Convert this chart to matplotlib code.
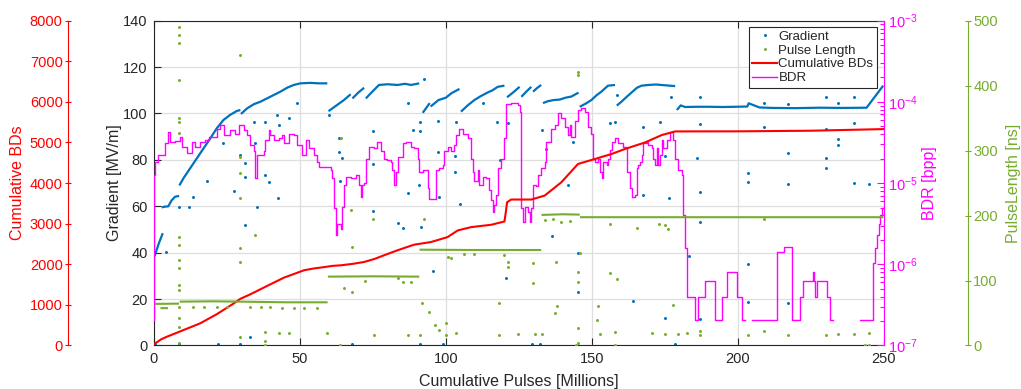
import numpy as np
import matplotlib
matplotlib.use("Agg")
import matplotlib.pyplot as plt
from matplotlib.ticker import LogLocator, NullFormatter, LogFormatterSciNotation

plt.rcParams['font.family'] = ['Liberation Sans', 'DejaVu Sans']
plt.rcParams['mathtext.fontset'] = 'custom'
plt.rcParams['mathtext.rm'] = 'Liberation Sans'
plt.rcParams['mathtext.it'] = 'Liberation Sans:italic'
plt.rcParams['mathtext.bf'] = 'Liberation Sans:bold'
plt.rcParams['mathtext.default'] = 'regular'

nan = float('nan')

# ---------------- data (millions of pulses) ----------------
grad_x = [0.2, 1.5, 3.0, nan,
          2.6, 3.5, 4.9, 6.0, 7.2, 8.6, nan,
          8.7, 10.1, 12.4, 14.7, 17.0, 19.3, 21.5, 23.8, 26.1, 28.4, 29.6, nan,
          29.8, 31.9, 34.2, 36.5, 38.7, 41.0, 43.3, 45.6, 47.9, 50.2, 53.6, 56.5, 59.4, nan,
          59.8, 62.8, 65.1, 67.4, nan, 68.0, 70.0, 72.0, nan,
          72.6, 74.8, 77.1, 80.0, 83.5, 86.0, 88.1, 90.9, nan,
          92.1, 94.5, nan, 94.8, 97.5, 100.0, 102.0, 104.7, nan,
          105.2, 107.5, 109.8, 112.0, 114.4, 116.0, 117.8, 120.1, nan,
          121.0, 123.0, 125.3, nan, 125.9, 127.5, 129.3, nan, 129.9, 131.3, 132.7, nan,
          133.3, 135.0, 137.0, 139.0, 141.0, 143.0, 144.5, 145.5, nan,
          145.9, 148.0, 149.9, 151.6, 153.3, 155.6, 158.0, nan,
          158.6, 160.3, 162.0, 163.8, 165.5, 167.1, 169.5, 172.0, 175.0, 178.6, nan,
          179.2, 180.5, 182.0, 186.0, 190.0, 195.0, 199.0, 203.3, 203.8, 207.5, 212.0,
          220.0, 228.0, 236.0, 244.2, 246.0, 248.0, 249.9]
grad_y = [38.5, 43.5, 48.4, nan,
          59.5, 59.8, 60.0, 62.5, 64.1, 64.5, nan,
          69.0, 72.1, 76.4, 80.7, 85.0, 89.3, 93.6, 97.2, 99.4, 101.1, 101.5, nan,
          99.8, 102.2, 104.0, 105.1, 106.5, 108.0, 109.4, 111.1, 112.3, 113.0, 113.2, 113.0, 113.0, nan,
          101.0, 103.7, 105.8, 108.3, nan, 106.5, 109.0, 111.1, nan,
          106.5, 109.4, 112.3, 112.6, 112.3, 112.8, 112.3, 113.0, nan,
          100.3, 104.5, nan, 103.0, 105.8, 106.8, 108.8, 110.6, nan,
          100.8, 103.5, 105.8, 107.5, 109.1, 110.0, 111.5, 112.0, nan,
          107.0, 109.0, 111.5, nan, 107.2, 109.3, 111.5, nan, 109.4, 111.0, 112.3, nan,
          104.5, 105.3, 105.8, 106.0, 106.8, 107.3, 108.3, 109.0, nan,
          102.9, 104.3, 105.8, 107.8, 109.4, 112.0, 112.3, nan,
          103.4, 105.2, 107.2, 109.2, 111.1, 112.0, 112.3, 112.5, 112.2, 111.8, nan,
          101.5, 103.5, 102.8, 102.9, 102.9, 102.8, 102.9, 103.0, 104.4, 102.6, 102.4,
          102.3, 102.5, 102.4, 102.5, 105.5, 108.8, 112.0]

grad_out_x = [4.13, 8.7, 12.1, 13.5, 18.1, 23.6, 27.3, 29.6, 31.1, 31.3, 31.3, 34.2, 34.7, 35.3,
              38.2, 38.2, 39.3, 42.2, 42.5, 42.8, 46.2, 49.1, 59.9, 63.4, 63.4, 64.5, 63.7, 75.2,
              75.2, 75.2, 83.5, 85.2, 87.1, 87.1, 88.6, 90.9, 91.2, 91.2, 91.4, 92.4, 95.5, 97.4,
              97.8, 97.4, 103.5, 103.2, 104.9, 103.2, 112.7, 117.5, 118.7, 120.7, 121.3, 133.0,
              134.5, 136.4, 141.9, 143.6, 145.3, 145.3, 156.2, 158.0, 158.6, 167.7, 167.7, 173.4,
              175.1, 176.5, 177.2, 183.2, 186.1, 164.3, 175.1, 187.2, 187.2, 187.2, 187.2, 187.2,
              203.6, 203.6, 203.6, 203.6, 209.0, 209.0, 217.3, 217.3, 217.3, 217.3, 230.2, 230.2,
              230.2, 230.2, 234.4, 234.4, 234.4, 239.9, 239.9, 239.9, 245.1,
              0.2, 8.7, 22.0, 29.4, 67.9, 91.2, 99.2, 129.6, 132.4, 178.6, 33.0]
grad_out_y = [40.4, 59.8, 59.5, 64.1, 70.9, 87.2, 66.6, 82.1, 51.9, 78.8, 72.8, 96.5, 87.4, 59.5,
              73.5, 96.5, 70.6, 99.4, 63.7, 95.0, 98.2, 104.4, 99.4, 89.3, 83.5, 80.7, 71.0, 92.5,
              78.1, 58.0, 52.7, 50.5, 65.6, 104.4, 92.9, 69.2, 96.5, 92.5, 51.0, 114.9, 32.1, 96.9,
              64.1, 83.5, 96.5, 74.9, 60.8, 81.5, 104.4, 96.5, 80.0, 29.0, 95.8, 92.9,
              84.6, 47.3, 69.2, 87.9, 22.9, 39.7, 95.8, 96.5, 108.0, 94.3, 64.9, 96.5,
              81.5, 63.7, 107.2, 38.7, 80.7, 19.2, 12.0, 107.2, 95.3, 66.3, 53.1, 11.4,
              74.2, 70.6, 35.0, 18.6, 94.3, 104.4, 82.8, 69.5, 18.2, 104.0, 80.7, 76.6,
              93.3, 107.2, 88.9, 86.4, 104.4, 95.8, 69.9, 107.2, 69.5,
              0.5, 0.5, 0.5, 0.5, 0.5, 0.5, 0.5, 0.5, 0.5, 0.5, 3.8]

pulse_x = [0.3, 8.6, nan, 8.8, 20.0, 30.0, 45.0, 59.5, nan, 2.2, 4.8, nan,
           59.6, 75.0, 90.9, nan, 91.0, 110.0, 132.7, nan,
           132.8, 140.0, 145.9, nan, 146.0, 200.0, 250.0]
pulse_y = [64.0, 64.5, nan, 67.5, 68.0, 67.5, 66.5, 66.5, nan, 57.5, 57.5, nan,
           106.0, 106.5, 106.0, nan, 147.5, 147.0, 147.0, nan,
           201.0, 202.0, 201.5, nan, 197.5, 197.5, 197.5]

pulse_out_x = ([8.7] * 17 + [29.6] * 7 +
               [34.7, 38.2, 38.2, 42.8, 46.2, 59.4,
                13.5, 17.0, 21.5, 25.0, 33.0, 36.5, 39.9, 43.9, 47.9, 51.4, 55.9,
                63.96, 67.6, 67.9, 65.1, 67.9, 75.2, 72.2, 83.5, 85.2, 88.0, 92.4, 92.0, 94.3,
                96.3, 97.8, 100.1, 75.4, 86.9, 91.2, 100.1, 103.5, 118.4, 118.4, 121.3, 100.6,
                101.8, 106.4, 109.8, 120.1, 121.3,
                145.3, 145.3, 145.9, 129.9, 129.9, 137.9, 145.3, 145.3, 156.2, 158.6, 138.0,
                137.4, 152.1, 151.9, 178.0, 124.7, 130.4, 133.0, 152.8, 158.0, 170.6, 175.1,
                179.7, 182.5, 145.3, 145.3, 133.9, 136.7, 139.6, 142.5, 156.2, 165.4, 172.9,
                175.1, 176.3,
                187.2, 187.2, 203.6, 209.0, 217.3, 230.2, 234.4, 239.9, 245.1, 245.1, 209.0,
                38.2, 63.8, 144.7, 157.9, 243.7])
pulse_out_y = ([490.8, 478.0, 465.2, 408.7, 349.7, 344.6, 326.6, 167.5, 154.7, 131.6, 118.8,
                93.1, 85.5, 59.8, 41.8, 29.0, 3.3] +
               [447.2, 290.7, 265.0, 226.6, 149.6, 129.0, 13.5] +
               [170.0, 21.2, 6.8, 18.6, 18.6, 18.6,
                59.8, 59.8, 59.8, 59.8, 59.8, 59.8, 59.8, 58.3, 58.3, 58.3, 58.3,
                319.0, 208.6, 152.0, 88.0, 83.0, 194.7, 99.8, 103.4, 98.3, 98.3, 194.7, 65.0, 51.0,
                31.8, 24.0, 34.6, 16.2, 16.7, 16.7, 16.7, 18.6, 16.7, 65.0, 121.3, 136.7,
                134.2, 140.4, 140.4, 139.4, 129.2,
                421.5, 416.0, 141.9, 126.5, 95.7, 128.6, 112.7, 98.4, 111.0, 103.0, 61.5,
                50.0, 61.5, 40.0, 62.5, 18.0, 18.0, 18.0, 17.0, 21.2, 19.0, 18.0,
                18.0, 19.0, 26.5, 3.4, 193.0, 194.7, 190.6, 191.6, 186.5, 181.4, 187.6,
                185.0, 179.9,
                21.7, 16.6, 16.6, 21.7, 16.6, 16.6, 18.0, 18.0, 20.0, 0.5, 194.7,
                1.0, 1.0, 1.0, 1.0, 1.0])

bd_x = [0.0, 2.4, 4.4, 10.1, 15.8, 21.5, 27.3, 29.6, 33.0, 38.7, 44.5, 51.4, 55.0, 58.3, 61.0,
        64.0, 68.0, 72.0, 75.5, 78.8, 83.4, 89.1, 94.9, 100.6, 104.1, 108.7, 115.6, 120.1,
        120.6, 121.0, 122.4, 129.3, 133.9, 139.6, 145.3, 151.1, 156.8, 161.4, 168.3, 174.0,
        178.6, 200.0, 225.0, 250.0]
bd_y = [30, 150, 216, 380, 545, 770, 1035, 1150, 1260, 1465, 1670, 1853, 1900, 1930, 1960,
        1975, 2010, 2057, 2130, 2221, 2344, 2483, 2548, 2670, 2834, 2916, 2974, 3055,
        3300, 3529, 3595, 3595, 3693, 4020, 4471, 4594, 4717, 4840, 5002, 5183,
        5273, 5275, 5290, 5330]

bdr_x = [0.0, 0.05, 0.3, 1.49, 3.78, 4.93, 5.5, 7.22, 8.94, 9.51, 11.23, 12.95, 14.1, 15.82,
         17.54, 18.68, 21.55, 22.7, 23.84, 26.13, 27.85, 29.0, 30.72, 31.87, 33.0, 34.16,
         34.73, 35.3, 37.6, 38.17, 39.3, 39.9, 41.0, 42.75, 43.9, 44.47, 46.19, 47.9, 49.06,
         50.78, 51.93, 53.07, 54.79, 55.94, 56.5, 58.23, 60.5, 61.1, 61.67, 62.24, 62.81,
         63.96, 64.53, 65.1, 65.68, 67.4, 69.12, 70.26, 70.84, 71.41, 71.98, 72.56, 73.7,
         75.42, 76.57, 77.72, 78.86, 80.01, 81.16, 81.73, 82.3, 82.88, 83.45, 85.17, 86.31,
         88.03, 89.18, 90.32, 90.89, 92.04, 93.18, 93.76, 94.33, 95.48, 96.62, 97.77, 98.91,
         99.48, 100.63, 101.78, 102.92, 103.49, 104.64, 105.78, 107.5, 108.65, 109.22,
         109.79, 110.94, 111.51, 112.66, 113.8, 114.95, 115.52, 116.09, 116.67, 117.24,
         117.81, 118.96, 120.1, 120.68, 122.4, 124.69, 125.28, 125.62, 126.43, 127.0, 128.15,
         128.72, 129.3, 129.87, 131.02, 131.59, 132.74, 133.88, 134.45, 136.17, 137.32,
         138.47, 139.61, 140.76, 141.91, 142.48, 143.05, 144.2, 145.35, 146.49, 147.64,
         148.79, 149.93, 150.51, 151.08, 152.22, 152.8, 153.37, 153.94, 155.09, 155.66,
         156.24, 156.81, 157.96, 159.1, 160.82, 161.97, 163.11, 163.69, 164.83, 165.41,
         165.98, 166.55, 167.13, 167.7, 168.84, 169.42, 170.56, 171.14, 171.71, 172.28,
         172.86, 173.43, 174.0, 174.57, 175.72, 176.87, 178.0, 178.5, 179.7, 180.8, 181.4,
         182.0, 182.5, 185.5, 186.5, 188.8, 192.3, 194.5, 196.3, 199.7, 201.4, 202.5, 204.8,
         213.6, 216.0, 218.8, 221.4, 222.5, 225.9, 226.2, 226.5, 227.1, 230.5, 231.7, 232.8,
         241.9, 246.5, 247.1, 247.7, 248.3, 248.8, 249.4, 250.0]
bdr_log10 = [-6.69, -4.90, -4.74, -4.65, -4.51, -4.37, -4.49, -4.48, -4.43, -4.55, -4.63, -4.49,
             -4.55, -4.49, -4.47, -4.43, -4.33, -4.28, -4.41, -4.35, -4.39, -4.28, -4.35, -4.41,
             -4.53, -4.61, -4.94, -4.65, -4.61, -4.47, -4.35, -4.41, -4.47, -4.45, -4.41, -4.51,
             -4.39, -4.41, -4.53, -4.65, -4.47, -4.57, -4.65, -4.74, -4.80, -4.80, -4.84, -4.94,
             -5.31, -5.64, -5.50, -5.56, -5.29, -5.02, -4.92, -4.94, -4.90, -5.02, -5.17, -5.02,
             -5.00, -4.70, -4.55, -4.57, -4.49, -4.61, -4.70, -4.72, -4.74, -4.84, -5.02, -4.86,
             -4.68, -4.51, -4.49, -4.55, -4.57, -4.70, -4.86, -4.84, -4.84, -5.06, -5.19, -5.19,
             -4.84, -4.82, -4.78, -4.61, -4.55, -4.61, -4.53, -4.41, -4.33, -4.39, -4.45, -4.70,
             -4.86, -4.98, -4.84, -5.02, -4.92, -4.94, -5.09, -5.21, -5.35, -5.27, -5.15, -4.82,
             -4.70, -4.45, -4.02, -4.01, -4.04, -4.12, -5.31, -5.48, -5.29, -5.35, -5.48, -5.31,
             -5.02, -5.04, -4.90, -4.82, -4.74, -4.49, -4.33, -4.28, -4.14, -4.20, -4.31, -4.41,
             -4.28, -4.43, -4.24, -4.10, -4.08, -4.12, -4.31, -4.39, -4.70, -4.74, -4.70, -4.86,
             -4.94, -4.74, -4.78, -4.70, -4.59, -4.49, -4.45, -4.51, -4.55, -4.86, -5.06, -5.17,
             -5.15, -4.82, -4.78, -4.74, -4.65, -4.51, -4.49, -4.53, -4.57, -4.70, -4.78, -4.57,
             -4.78, -4.65, -4.47, -4.57, -4.47, -4.37, -4.47, -4.70, -4.84, -4.90, -5.39, -5.80,
             -6.40, -6.69, -6.40, -6.21, -6.69, -6.40, -6.09, -6.40, -6.69, nan, -6.69,
             -5.85, -5.79, -6.69, -6.40, -6.21, -6.09, -6.21, -6.40, -6.21, -6.40, -6.69, nan,
             -6.69, -5.99, -5.80, -5.64, -5.50, -5.39, -5.31, -5.31]

x_ticks = [0, 50, 100, 150, 200, 250]
grad_ticks = list(range(0, 141, 20))
bd_ticks = list(range(0, 8001, 1000))
pulse_ticks = list(range(0, 501, 100))

# ---------------- styling ----------------
TXT = '#262626'
BLUE = '#0072BD'
GREEN = '#77AC30'
RED = '#FF0000'
MAG = '#FF00FF'
FS = 10.5
MS = 2.3

fig = plt.figure(figsize=(10.21, 3.89), dpi=100)
ax = fig.add_axes([0.15083, 0.11183, 0.7145, 0.83496])
ax_b = ax.twinx()
ax_c = ax.twinx()
ax_p = ax.twinx()

# main (gradient)
ax.set_xlim(0, 250)
ax.set_ylim(0, 140)
ax.set_xticks(x_ticks)
ax.set_yticks(grad_ticks)
ax.grid(True, color='#DEDEDE', linewidth=0.9)
ax.set_axisbelow(True)
for s in ('left', 'bottom', 'top'):
    ax.spines[s].set_color(TXT)
    ax.spines[s].set_linewidth(0.8)
ax.spines['right'].set_visible(False)
ax.tick_params(axis='both', direction='in', length=5, width=0.8, colors=TXT,
               labelsize=FS, pad=4.5)
ax.tick_params(axis='x', top=True, labeltop=False)
ax.tick_params(axis='y', left=True, right=False)
ax.plot(grad_x, grad_y, color=BLUE, lw=1.6, solid_capstyle='butt')
h_grad, = ax.plot(grad_out_x, grad_out_y, '.', color=BLUE, ms=MS)
ax.set_xlabel('Cumulative Pulses [Millions]', fontsize=11.5, color=TXT, labelpad=6)
ax.set_ylabel('Gradient [MV/m]', fontsize=11.5, color=TXT)
ax.yaxis.set_label_coords(-0.0439, 0.5)

for a in (ax_b, ax_c, ax_p):
    for s in ('top', 'bottom', 'left', 'right'):
        a.spines[s].set_visible(False)

# BDR (log) axis on right spine
ax_b.set_yscale('log')
ax_b.set_ylim(1e-7, 1e-3)
ax_b.spines['right'].set_visible(True)
ax_b.spines['right'].set_color(MAG)
ax_b.spines['right'].set_linewidth(0.8)
ax_b.yaxis.set_major_locator(LogLocator(base=10, numticks=10))
ax_b.yaxis.set_major_formatter(LogFormatterSciNotation())
ax_b.yaxis.set_minor_locator(LogLocator(base=10, subs=np.arange(2, 10), numticks=10))
ax_b.yaxis.set_minor_formatter(NullFormatter())
ax_b.tick_params(axis='y', which='major', direction='in', length=5, width=0.8,
                 colors=MAG, labelsize=FS, pad=3.5)
ax_b.tick_params(axis='y', which='minor', direction='in', length=3, width=0.8, colors=MAG)
h_bdr, = ax_b.plot(bdr_x, 10 ** np.array(bdr_log10), color=MAG, lw=1.0,
                   drawstyle='steps-post')
ax_b.set_ylabel('BDR [bpp]', fontsize=11.5, color=MAG)
ax_b.yaxis.set_label_coords(1.0524, 0.5)

# cumulative BDs axis on far left
ax_c.set_ylim(0, 8000)
ax_c.set_yticks(bd_ticks)
ax_c.yaxis.set_ticks_position('left')
ax_c.yaxis.set_label_position('left')
ax_c.spines['left'].set_visible(True)
ax_c.spines['left'].set_position(('axes', -0.1175))
ax_c.spines['left'].set_color(RED)
ax_c.spines['left'].set_linewidth(0.8)
ax_c.tick_params(axis='y', direction='inout', length=4, width=0.8, colors=RED,
                 labelsize=FS, pad=2)
h_bd, = ax_c.plot(bd_x, bd_y, color=RED, lw=1.5)
ax_c.set_ylabel('Cumulative BDs', fontsize=11.5, color=RED)
ax_c.yaxis.set_label_coords(-0.1768, 0.5)

# pulse length axis on far right
ax_p.set_ylim(0, 500)
ax_p.set_yticks(pulse_ticks)
ax_p.spines['right'].set_visible(True)
ax_p.spines['right'].set_position(('axes', 1.1162))
ax_p.spines['right'].set_color(GREEN)
ax_p.spines['right'].set_linewidth(0.8)
ax_p.tick_params(axis='y', direction='inout', length=4, width=0.8, colors=GREEN,
                 labelsize=FS, pad=1.5)
ax_p.plot(pulse_x, pulse_y, color=GREEN, lw=1.5, solid_capstyle='butt')
h_pl, = ax_p.plot(pulse_out_x, pulse_out_y, '.', color=GREEN, ms=MS)
ax_p.set_ylabel('PulseLength [ns]', fontsize=11.5, color=GREEN)
ax_p.yaxis.set_label_coords(1.168, 0.5)

leg = ax_p.legend([h_grad, h_pl, h_bd, h_bdr],
                  ['Gradient', 'Pulse Length', 'Cumulative BDs', 'BDR'],
                  loc='upper right', bbox_to_anchor=(0.9907, 0.9797), borderaxespad=0,
                  fontsize=9.5, frameon=True, fancybox=False, framealpha=1,
                  edgecolor=TXT, borderpad=0.25, labelspacing=0.12,
                  handlelength=1.9, handletextpad=0.1, markerscale=1.0)
leg.get_frame().set_linewidth(0.8)
for t in leg.get_texts():
    t.set_color(TXT)

fig.savefig('out.png', dpi=100)
